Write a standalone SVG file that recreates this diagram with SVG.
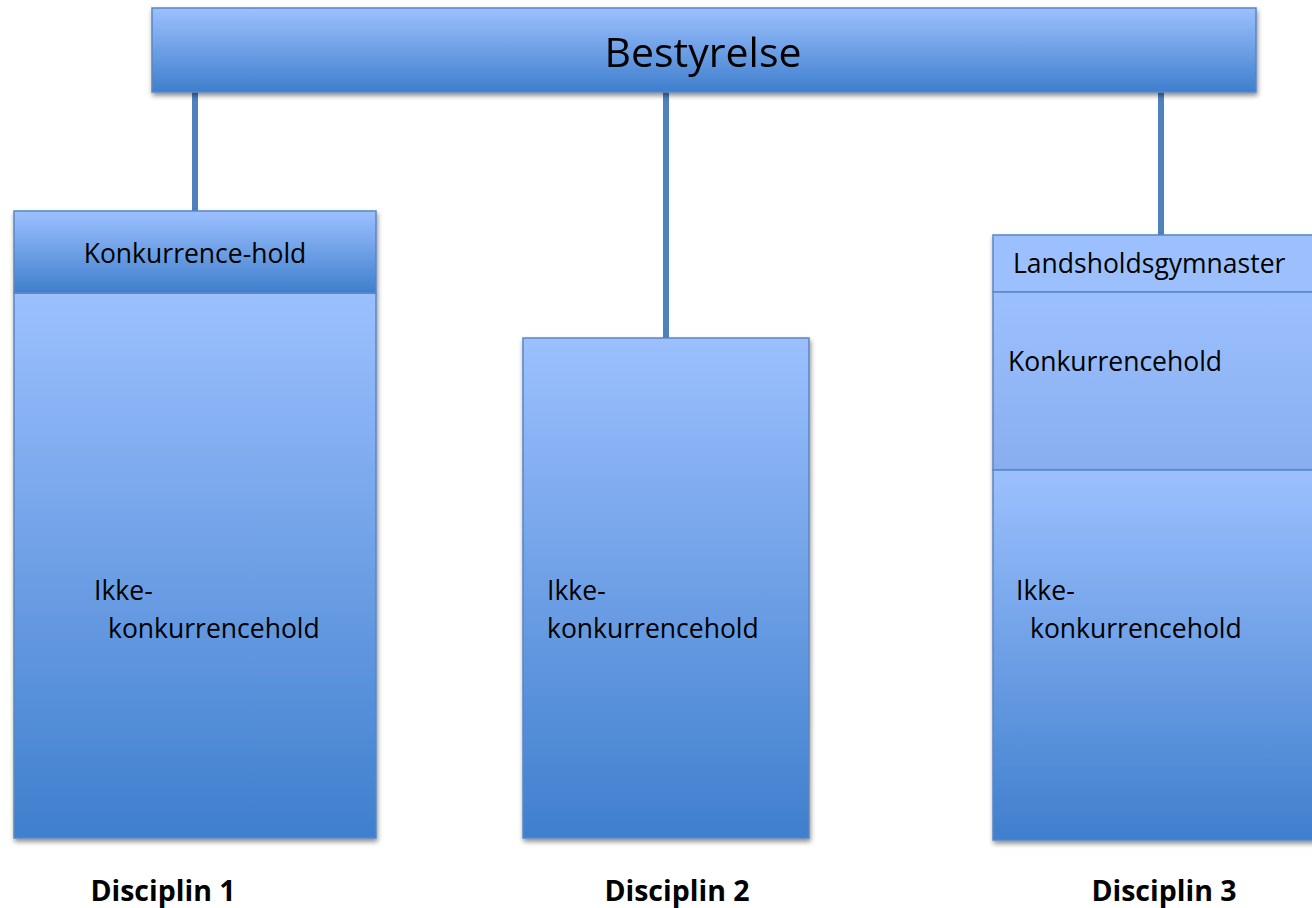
<svg xmlns="http://www.w3.org/2000/svg" width="1312" height="908" viewBox="0 0 1312 908">
<defs>
<linearGradient id="g" x1="0" y1="0" x2="0" y2="1">
<stop offset="0" stop-color="#9cc0fe"/>
<stop offset="1" stop-color="#3f7fcd"/>
</linearGradient>
<linearGradient id="gl" x1="0" y1="0" x2="0" y2="1">
<stop offset="0" stop-color="#9cc0fe"/>
<stop offset="1" stop-color="#88aef0"/>
</linearGradient>
<filter id="sh" x="-5%" y="-5%" width="115%" height="115%">
<feGaussianBlur in="SourceAlpha" stdDeviation="2.5"/>
<feOffset dx="1" dy="3" result="b"/>
<feComponentTransfer><feFuncA type="linear" slope="0.45"/></feComponentTransfer>
<feMerge><feMergeNode/><feMergeNode in="SourceGraphic"/></feMerge>
</filter>
</defs>
<style>
.box{fill:url(#g);stroke:#5a86c4;stroke-width:1.5}
.lbox{fill:url(#gl);stroke:#5a86c4;stroke-width:1.5}
.flat{fill:#9cc0fe;stroke:#5a86c4;stroke-width:1.5}
.t{font-family:"Open Sans","Liberation Sans",sans-serif;font-size:26.5px;fill:#000}
.big{font-family:"Open Sans","Liberation Sans",sans-serif;font-size:41px;fill:#000}
.b{font-family:"Open Sans","Liberation Sans",sans-serif;font-size:28.5px;font-weight:bold;fill:#000}
.c{stroke:#4f81bd;stroke-width:6;fill:none}
</style>
<rect width="1312" height="908" fill="#fff"/>
<g id="connectors">
<line class="c" x1="195" y1="92" x2="195" y2="211"/>
<line class="c" x1="666" y1="92" x2="666" y2="338"/>
<line class="c" x1="1161" y1="92" x2="1161" y2="235"/>
</g>
<g id="bestyrelse" filter="url(#sh)">
<rect class="box" x="152" y="8" width="1104" height="84"/>
<text class="big" x="703" y="67" text-anchor="middle">Bestyrelse</text>
</g>
<g id="disciplin1">
<g filter="url(#sh)">
<rect class="box" x="14" y="293" width="362" height="545"/>
<rect class="box" x="14" y="211" width="362" height="82"/>
</g>
<text class="t" x="195" y="263" text-anchor="middle">Konkurrence-hold</text>
<text class="t" x="94" y="600">Ikke-</text>
<text class="t" x="108" y="638">konkurrencehold</text>
<text class="b" x="163" y="901" text-anchor="middle">Disciplin 1</text>
</g>
<g id="disciplin2">
<rect class="box" x="523" y="338" width="286" height="500" filter="url(#sh)"/>
<text class="t" x="547" y="600">Ikke-</text>
<text class="t" x="547" y="638">konkurrencehold</text>
<text class="b" x="677" y="901" text-anchor="middle">Disciplin 2</text>
</g>
<g id="disciplin3">
<g filter="url(#sh)">
<rect class="flat" x="993" y="235" width="330" height="57"/>
<rect class="lbox" x="993" y="292" width="330" height="178"/>
<rect class="box" x="993" y="470" width="330" height="370"/>
</g>
<text class="t" x="1013" y="273">Landsholdsgymnaster</text>
<text class="t" x="1008" y="371">Konkurrencehold</text>
<text class="t" x="1016" y="600">Ikke-</text>
<text class="t" x="1030" y="638">konkurrencehold</text>
<text class="b" x="1164" y="901" text-anchor="middle">Disciplin 3</text>
</g>
</svg>
